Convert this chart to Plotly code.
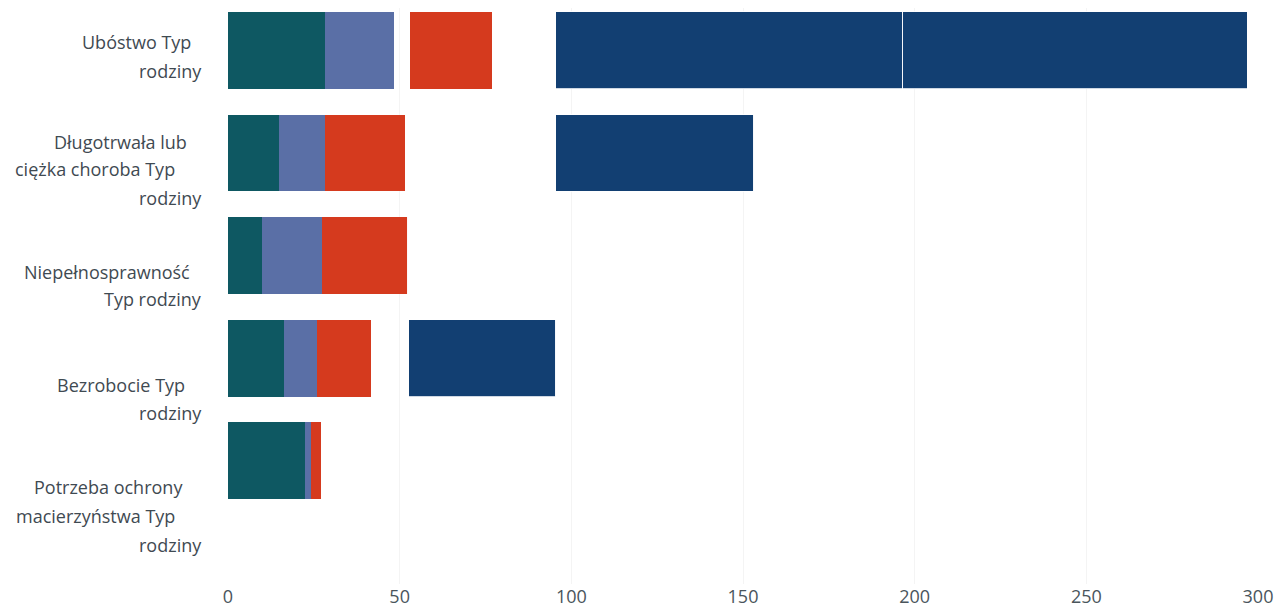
import plotly.graph_objects as go

categories = [
    "Ubóstwo Typ\nrodziny",
    "Długotrwała lub\nciężka choroba Typ\nrodziny",
    "Niepełnosprawność\nTyp rodziny",
    "Bezrobocie Typ\nrodziny",
    "Potrzeba ochrony\nmacierzyństwa Typ\nrodziny",
]
cat_keys = ["Ubóstwo", "Długotrwała", "Niepełnosprawność", "Bezrobocie", "Potrzeba"]

teal = [28.3, 14.9, 9.9, 16.3, 22.4]
light = [20.1, 13.4, 17.5, 9.6, 1.8]
gap_a = [4.6, 0, 0, 0, 0]
red = [23.9, 23.3, 25.0, 15.8, 2.9]
gap_b = [18.6, 43.9, 0, 11.0, 0]
dark1 = [101.1, 57.7, 0, 42.8, 0]
dark2 = [100.2, 0, 0, 0, 0]

x_ticks = [0, 50, 100, 150, 200, 250, 300]

series = [
    ("teal", teal, "#0e5862"),
    ("light", light, "#5a6fa6"),
    ("gap_a", gap_a, "rgba(255,255,255,0)"),
    ("red", red, "#d53a1e"),
    ("gap_b", gap_b, "rgba(255,255,255,0)"),
    ("dark1", dark1, "#123f72"),
    ("dark2", dark2, "#123f72"),
]

fig = go.Figure()
for name, vals, col in series:
    line = dict(width=0)
    if name.startswith("dark"):
        line = dict(width=1, color="rgba(255,255,255,0.8)")
    fig.add_trace(go.Bar(
        y=cat_keys, x=vals, orientation="h", name=name,
        marker=dict(color=col, line=line), showlegend=False,
    ))

# page offset (body margin) is 8px
OFF = 8
W, H = 1278, 600
L, R, T, B = 220, 28, 0, 22
plot_w = W - L - R
plot_h = H - T - B
center0 = 50.5 - OFF  # first band center in figure px
band = 103

# label line layout (window pixel y centers, right edges)
label_lines_y = [[42, 71], [142, 170, 199], [273, 300], [386, 414], [489, 518, 547]]
label_lines_r = [[193, 204], [189, 177, 204], [192, 204], [187, 204], [185, 177, 204]]

annotations = []
for cat, ys, rs in zip(categories, label_lines_y, label_lines_r):
    for line_text, py, pr in zip(cat.split("\n"), ys, rs):
        annotations.append(dict(
            text=line_text, xref="paper", yref="paper",
            x=(pr - OFF - L) / plot_w, y=1 - (py - OFF - T) / plot_h,
            xanchor="right", yanchor="middle", showarrow=False,
            font=dict(family="Open Sans", size=18, color="#3f4a52"),
        ))

fig.update_layout(
    barmode="stack",
    bargap=0.25,
    width=W, height=H,
    margin=dict(l=L, r=R, t=T, b=B),
    plot_bgcolor="white", paper_bgcolor="white",
    annotations=annotations,
    xaxis=dict(range=[0, 300], tickvals=x_ticks, showgrid=True, gridcolor="#f4f4f4",
               zeroline=False, showline=False, ticks="",
               tickfont=dict(family="Open Sans", size=18, color="#4a555c")),
    yaxis=dict(categoryorder="array", categoryarray=cat_keys,
               range=[(plot_h - center0) / band, -center0 / band], showticklabels=False,
               showgrid=False, zeroline=False, showline=False, ticks=""),
)

fig.write_html("out.html")
